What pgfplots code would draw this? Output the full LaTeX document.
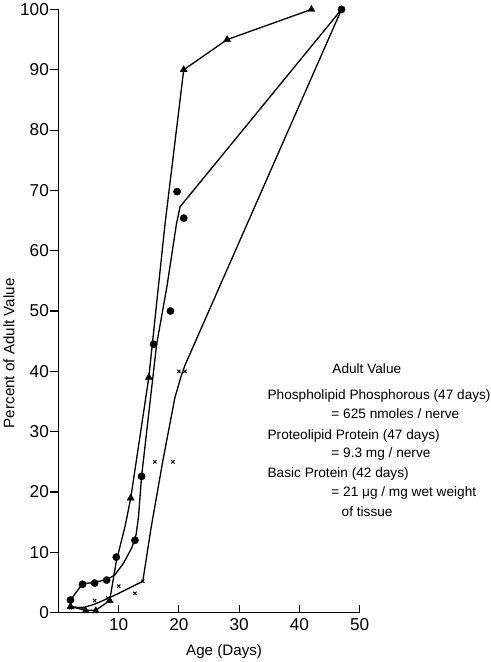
\documentclass[border=0pt]{standalone}
\usepackage{pgfplots}
\pgfplotsset{compat=1.18}
\usepackage{fontspec}
\setmainfont{Liberation Sans}
\begin{document}
\begin{tikzpicture}
\begin{axis}[
  scale only axis,
  width=298pt, height=597pt,
  xmin=0, xmax=50, ymin=0, ymax=100,
  axis x line=bottom, axis y line=left,
  axis line style={-, line width=1.3pt},
  xtick={10,20,30,40,50},
  ytick={0,10,...,100},
  tick align=inside,
  major tick length=8pt,
  tick style={line width=1.1pt, black},
  y tick style={xshift=-8pt},
  yticklabel style={xshift=-6pt},
  xticklabel style={yshift=-2pt},
  tick label style={font=\fontsize{17}{20}\selectfont},
  /pgf/number format/assume math mode=true,
  xlabel={Age (Days)},
  ylabel={Percent of Adult Value},
  label style={font=\fontsize{15}{18}\selectfont},
  xlabel style={at={(rel axis cs:0.55,0)}, anchor=north, yshift=-28pt},
  ylabel style={at={(rel axis cs:0,0.43)}, anchor=south, yshift=40pt},
  clip=false,
]
% Basic protein line (triangles)
\addplot[black, line width=1.3pt] coordinates {
  (2,1) (4.5,0.4) (6.2,0.4) (8.5,2) (9.6,8.5) (11.1,14.5) (12,19) (15,39) (17.7,64.5) (20.8,90) (28,95) (42,100)
};
% Phospholipid line (circles)
\addplot[black, line width=1.3pt] coordinates {
  (2,2.1) (4,4.8) (6,5) (8,5.5) (9.3,6.2) (10.8,8.2) (12.2,10.8) (12.9,13) (13.3,16) (13.8,22.6) (16.3,44.5) (18,54) (19.6,64.5) (20.2,67.3) (47,100)
};
% Proteolipid line (crosses)
\addplot[black, line width=1.3pt] coordinates {
  (2,1) (4,0.8) (6,1.4) (8.3,2.4) (10,3.2) (14,5.2) (15.4,14.2) (17.3,25) (19.3,35.5) (20.3,39) (21,41) (47,100)
};
% marks
\addplot[only marks, mark=triangle*, mark size=4pt, black] coordinates {
  (2,1) (4.5,0.3) (6.2,0.3) (8.5,2) (12,19) (15,39) (20.8,90) (28,95) (42,100)
};
\addplot[only marks, mark=*, mark size=3.6pt, black] coordinates {
  (2,2.1) (4,4.7) (6,4.9) (8,5.4) (9.6,9.2) (12.7,12) (13.8,22.6) (15.8,44.5) (18.6,50) (19.7,69.8) (20.8,65.4) (47,100)
};
\addplot[only marks, mark=x, mark size=2.3pt, black, line width=0.9pt] coordinates {
  (2,0.8) (4,0.7) (6,2) (8.2,2.4) (10,4.4) (12.7,3.2) (14,5.2) (16,25) (19,25) (20,40) (21,40)
};
% adult values
\begin{scope}[font=\fontsize{13.5}{16}\selectfont]
\node[anchor=center] at (axis cs:51.2,40.5) {Adult Value};
\node[anchor=west, inner sep=0pt] at (axis cs:34.7,36) {Phospholipid Phosphorous (47 days)};
\node[anchor=west, inner sep=0pt] at (axis cs:45.3,33) {= 625 nmoles / nerve};
\node[anchor=west, inner sep=0pt] at (axis cs:34.7,29.3) {Proteolipid Protein (47 days)};
\node[anchor=west, inner sep=0pt] at (axis cs:45.3,26.3) {= 9.3 mg / nerve};
\node[anchor=west, inner sep=0pt] at (axis cs:34.7,23) {Basic Protein (42 days)};
\node[anchor=west, inner sep=0pt] at (axis cs:45.3,19.8) {= 21 μg / mg wet weight};
\node[anchor=west, inner sep=0pt] at (axis cs:47.0,16.8) {of tissue};
\end{scope}
\end{axis}
\end{tikzpicture}
\end{document}
